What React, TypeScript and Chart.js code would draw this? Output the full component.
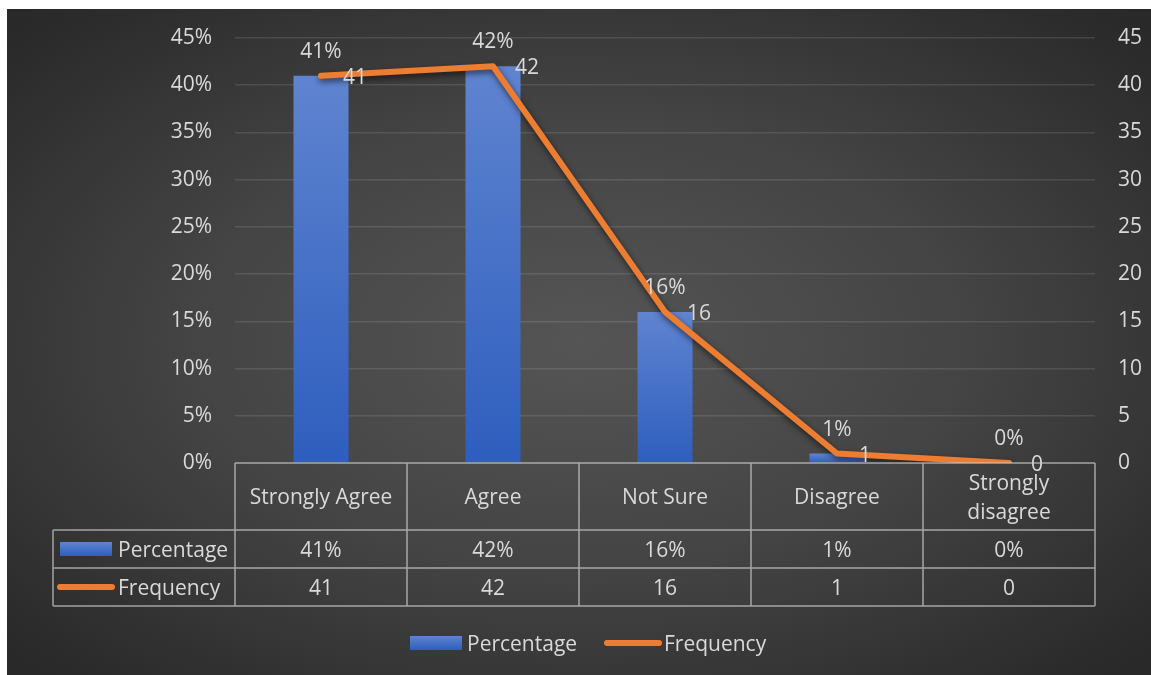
import React, { useEffect, useRef } from "react";
import { Chart, registerables } from "chart.js";

Chart.register(...registerables);

const categories = ["Strongly Agree", "Agree", "Not Sure", "Disagree", "Strongly disagree"];
const headerLines = [["Strongly Agree"], ["Agree"], ["Not Sure"], ["Disagree"], ["Strongly", "disagree"]];
const percentage = [41, 42, 16, 1, 0];
const frequency = [41, 42, 16, 1, 0];
const seriesNames = ["Percentage", "Frequency"];
const axisMax = 45;
const axisStep = 5;

const FONT = "'Open Sans', sans-serif";
const FONT_SIZE = 21;
const TEXT = "#D9D9D9";
const ORANGE = "#ED7D31";
const GRID = "rgba(255,255,255,0.11)";
const TABLE_LINE = "rgba(200,200,200,0.75)";
const TY = 2; // vertical text nudge

function barGradient(ctx: CanvasRenderingContext2D, top: number, bottom: number) {
  const g = ctx.createLinearGradient(0, top, 0, bottom);
  g.addColorStop(0, "#5F84D0");
  g.addColorStop(1, "#2E5EBE");
  return g;
}

function drawBarKey(ctx: CanvasRenderingContext2D, x: number, cy: number) {
  ctx.fillStyle = barGradient(ctx, cy - 7, cy + 7);
  ctx.fillRect(x, cy - 7, 52, 14);
}

function drawLineKey(ctx: CanvasRenderingContext2D, x: number, cy: number) {
  ctx.save();
  ctx.strokeStyle = ORANGE;
  ctx.lineWidth = 6;
  ctx.lineCap = "round";
  ctx.beginPath();
  ctx.moveTo(x + 3, cy);
  ctx.lineTo(x + 55, cy);
  ctx.stroke();
  ctx.restore();
}

const shadowPlugin = {
  id: "lineShadow",
  beforeDatasetDraw(chart: any, args: any) {
    if (args.index === 1) {
      const c = chart.ctx;
      c.save();
      c.shadowColor = "rgba(0,0,0,0.6)";
      c.shadowBlur = 6;
      c.shadowOffsetX = 1;
      c.shadowOffsetY = 3;
    }
  },
  afterDatasetDraw(chart: any, args: any) {
    if (args.index === 1) chart.ctx.restore();
  },
};

const tablePlugin = {
  id: "tableAndLabels",
  afterDatasetsDraw(chart: any) {
    const { ctx, chartArea, scales } = chart;
    const xs = scales.x;
    const yl = scales.y;
    const yr = scales.y1;
    ctx.save();
    ctx.font = `${FONT_SIZE}px ${FONT}`;
    ctx.fillStyle = TEXT;
    ctx.textBaseline = "middle";

    // data labels
    ctx.textAlign = "center";
    percentage.forEach((v, i) => {
      ctx.fillText(`${v}%`, xs.getPixelForValue(i), yl.getPixelForValue(v) - 24);
    });
    ctx.textAlign = "left";
    frequency.forEach((v, i) => {
      ctx.fillText(String(v), xs.getPixelForValue(i) + 22, yr.getPixelForValue(v) + 2);
    });

    // data table
    const n = categories.length;
    const colW = (chartArea.right - chartArea.left) / n;
    const top = chartArea.bottom;
    const r1 = top + 67;
    const r2 = r1 + 38;
    const r3 = r2 + 38;
    const leftCol = 46;
    ctx.strokeStyle = TABLE_LINE;
    ctx.lineWidth = 1.5;
    ctx.beginPath();
    ctx.moveTo(chartArea.left, top);
    ctx.lineTo(chartArea.right, top);
    ctx.moveTo(leftCol, r1);
    ctx.lineTo(chartArea.right, r1);
    ctx.moveTo(leftCol, r2);
    ctx.lineTo(chartArea.right, r2);
    ctx.moveTo(leftCol, r3);
    ctx.lineTo(chartArea.right, r3);
    ctx.moveTo(leftCol, r1);
    ctx.lineTo(leftCol, r3);
    for (let i = 0; i <= n; i++) {
      const x = chartArea.left + i * colW;
      ctx.moveTo(x, top);
      ctx.lineTo(x, r3);
    }
    ctx.stroke();

    ctx.fillStyle = TEXT;
    ctx.textAlign = "center";
    headerLines.forEach((lines, i) => {
      const cx = xs.getPixelForValue(i);
      const cy = (top + r1) / 2 + TY;
      const lh = 29;
      lines.forEach((t, k) => {
        ctx.fillText(t, cx, cy + (k - (lines.length - 1) / 2) * lh);
      });
    });
    percentage.forEach((v, i) => {
      ctx.fillText(`${v}%`, xs.getPixelForValue(i), (r1 + r2) / 2 + TY);
    });
    frequency.forEach((v, i) => {
      ctx.fillText(String(v), xs.getPixelForValue(i), (r2 + r3) / 2 + TY);
    });

    // row legend keys
    ctx.textAlign = "left";
    drawBarKey(ctx, 53, (r1 + r2) / 2);
    ctx.fillStyle = TEXT;
    ctx.fillText(seriesNames[0], 111, (r1 + r2) / 2 + TY);
    drawLineKey(ctx, 50, (r2 + r3) / 2);
    ctx.fillStyle = TEXT;
    ctx.fillText(seriesNames[1], 111, (r2 + r3) / 2 + TY);

    // bottom legend
    const ly = r3 + 37;
    drawBarKey(ctx, 403, ly);
    ctx.fillStyle = TEXT;
    ctx.fillText(seriesNames[0], 460, ly + TY);
    drawLineKey(ctx, 597, ly);
    ctx.fillStyle = TEXT;
    ctx.fillText(seriesNames[1], 657, ly + TY);

    ctx.restore();
  },
};

export default function App() {
  const canvasRef = useRef<HTMLCanvasElement | null>(null);

  useEffect(() => {
    if (!canvasRef.current) return;
    const chart = new Chart(canvasRef.current, {
      type: "bar",
      data: {
        labels: categories,
        datasets: [
          {
            type: "bar",
            label: seriesNames[0],
            data: percentage,
            yAxisID: "y",
            order: 2,
            categoryPercentage: 1,
            barPercentage: 0.32,
            backgroundColor: (c: any) => {
              const chart = c.chart;
              const area = chart.chartArea;
              if (!area || c.dataIndex === undefined) return "#4472C4";
              const top = chart.scales.y.getPixelForValue(percentage[c.dataIndex]);
              return barGradient(chart.ctx, Math.min(top, area.bottom - 1), area.bottom);
            },
          },
          {
            type: "line",
            label: seriesNames[1],
            data: frequency,
            yAxisID: "y1",
            order: 1,
            borderColor: ORANGE,
            borderWidth: 6,
            borderCapStyle: "round",
            borderJoinStyle: "round",
            pointRadius: 0,
            tension: 0,
          },
        ],
      },
      options: {
        animation: false,
        responsive: true,
        maintainAspectRatio: false,
        layout: { padding: { top: 29, left: 0, right: 0, bottom: 0 } },
        plugins: {
          legend: { display: false },
          tooltip: { enabled: false },
        },
        scales: {
          x: {
            grid: { display: false },
            border: { display: false },
            ticks: { display: false },
            afterFit: (s: any) => {
              s.height = 212;
            },
          },
          y: {
            position: "left",
            min: 0,
            max: axisMax,
            ticks: {
              stepSize: axisStep,
              padding: 23,
              color: TEXT,
              font: { family: FONT, size: FONT_SIZE },
              callback: (v: any) => `${v}%`,
            },
            grid: {
              color: (c: any) => (c.tick && c.tick.value === 0 ? "rgba(0,0,0,0)" : GRID),
              lineWidth: 1.5,
              drawTicks: false,
            },
            border: { display: false },
            afterFit: (s: any) => {
              s.width = 228;
              s.paddingTop = 0;
              s.paddingBottom = 0;
            },
          },
          y1: {
            position: "right",
            min: 0,
            max: axisMax,
            ticks: {
              stepSize: axisStep,
              padding: 23,
              color: TEXT,
              font: { family: FONT, size: FONT_SIZE },
            },
            grid: { display: false, drawTicks: false },
            border: { display: false },
            afterFit: (s: any) => {
              s.width = 56;
              s.paddingTop = 0;
              s.paddingBottom = 0;
            },
          },
        },
      },
      plugins: [shadowPlugin, tablePlugin],
    } as any);
    return () => chart.destroy();
  }, []);

  return (
    <div
      style={{
        position: "absolute",
        left: 7,
        top: 9,
        width: 1144,
        height: 666,
        background:
          "radial-gradient(ellipse 75% 75% at 50% 50%, #555555 0%, #444444 45%, #2c2c2c 85%, #262626 100%)",
      }}
    >
      <canvas ref={canvasRef} style={{ width: "100%", height: "100%" }} />
    </div>
  );
}
